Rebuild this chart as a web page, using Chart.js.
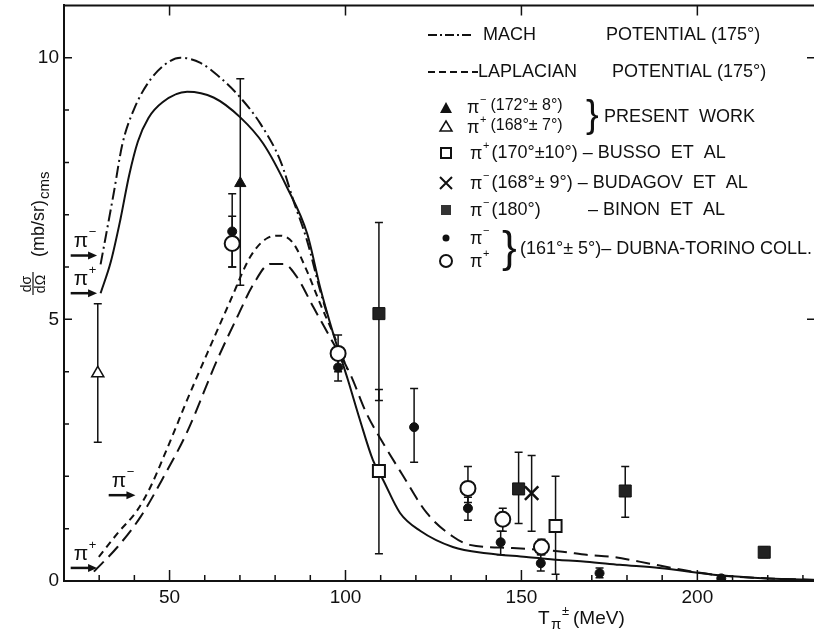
<!DOCTYPE html>
<html><head><meta charset="utf-8">
<script src="https://cdn.jsdelivr.net/npm/chart.js@4.4.1/dist/chart.umd.min.js"></script>
<style>html,body{margin:0;padding:0;background:#fff;overflow:hidden;width:814px;height:632px}#wrap{width:818px;position:relative}canvas{display:block}</style>
</head><body><div id="wrap"><canvas id="c" width="818" height="643"></canvas></div>
<script>
// ---------- tick labels ----------
const X_TICK_LABELS = [50, 100, 150, 200];
const Y_TICK_LABELS = [0, 5, 10];
const X_MINOR_TICKS = [30, 40, 60, 70, 80, 90, 110, 120, 130, 140, 160, 170, 180, 190, 210, 220, 230];
const Y_MINOR_TICKS = [1, 2, 3, 4, 6, 7, 8, 9];

// ---------- theory curves ----------
const machMinusX = [30.4, 34.1, 36.6, 39.8, 43.7, 48.3, 53.1, 58.8, 64.4, 70.1, 75.8, 81.5, 85.2, 89.1, 92.8, 95.0];
const machMinusY = [6.05, 7.4, 8.35, 9.0, 9.5, 9.85, 10.0, 9.9, 9.62, 9.24, 8.74, 8.03, 7.27, 6.5, 5.55, 5.05];

const machPlusX = [30.4, 33.3, 36.0, 38.5, 41.0, 44.0, 48.0, 55.0, 62.5, 70.1, 76.6, 83.4, 89.1, 92.8, 96.5, 100.7, 104.0, 107.8, 110.7, 115.5, 121.2, 130.5, 140.0, 151.4, 160.8, 168.4, 177.9, 189.2, 206.2, 220.0, 234.0];
const machPlusY = [5.5, 6.1, 6.9, 7.75, 8.4, 8.85, 9.15, 9.35, 9.24, 8.86, 8.36, 7.52, 6.64, 5.61, 4.73, 3.84, 3.1, 2.31, 1.93, 1.3, 0.96, 0.65, 0.53, 0.46, 0.4, 0.37, 0.31, 0.25, 0.11, 0.05, 0.02];

const lapMinusX = [29.9, 35.2, 40.8, 44.6, 48.3, 52.2, 54.0, 60.7, 67.3, 72.9, 77.7, 81.5, 85.2, 89.0, 92.8, 96.5, 100.5];
const lapMinusY = [0.46, 0.91, 1.35, 1.8, 2.37, 3.0, 3.3, 4.35, 5.36, 6.19, 6.55, 6.6, 6.45, 5.93, 5.3, 4.73, 4.05];

const lapPlusX = [28.5, 35.2, 41.8, 48.4, 55.0, 63.5, 69.2, 73.9, 78.6, 82.4, 86.2, 90.9, 95.6, 101.3, 106.0, 111.0, 116.0, 123.1, 130.5, 135.3, 147.5, 161.7, 168.5, 176.0, 183.5, 198.6, 206.2, 220.0, 234.0];
const lapPlusY = [0.18, 0.65, 1.23, 2.0, 2.85, 4.22, 5.04, 5.68, 6.06, 6.06, 5.81, 5.23, 4.66, 3.96, 3.2, 2.6, 2.05, 1.3, 0.85, 0.69, 0.63, 0.56, 0.5, 0.46, 0.37, 0.18, 0.11, 0.05, 0.02];

// ---------- experimental points (value, error low, error high) ----------
const presMinusX = [70.1], presMinusY = [7.6], presMinusLo = [5.65], presMinusHi = [9.6];
const presPlusX = [29.6], presPlusY = [3.97], presPlusLo = [2.65], presPlusHi = [5.3];
const bussoX = [109.5, 159.7], bussoY = [2.1, 1.05], bussoLo = [0.52, 0.13], bussoHi = [3.66, 2.0];
const budagovX = [152.9], budagovY = [1.68], budagovLo = [0.95], budagovHi = [2.4];
const binonX = [109.5, 149.2, 179.5, 219.0], binonY = [5.11, 1.76, 1.72, 0.55], binonLo = [3.45, 1.1, 1.22, 0.45], binonHi = [6.85, 2.46, 2.19, 0.65];
const dubMinusX = [67.8, 97.9, 119.5, 134.8, 144.1, 155.5, 172.2, 206.8];
const dubMinusY = [6.68, 4.08, 2.94, 1.39, 0.74, 0.34, 0.15, 0.05];
const dubMinusLo = [6.0, 3.82, 2.27, 1.16, 0.5, 0.19, 0.06, 0.0];
const dubMinusHi = [7.4, 4.3, 3.68, 1.6, 0.95, 0.5, 0.25, 0.1];
const dubPlusX = [67.8, 97.9, 134.8, 144.7, 155.7];
const dubPlusY = [6.45, 4.35, 1.77, 1.18, 0.65];
const dubPlusLo = [6.0, 4.0, 1.5, 0.95, 0.5];
const dubPlusHi = [6.97, 4.7, 2.19, 1.39, 0.8];

// ---------- threshold arrows (x from, x to, y) ----------
const arrowLabels = ['\u03c0-', '\u03c0+', '\u03c0-', '\u03c0+'];
const arrowX0 = [21.9, 21.9, 32.7, 21.9];
const arrowX1 = [29.4, 29.4, 40.3, 29.4];
const arrowY = [6.22, 5.5, 1.64, 0.25];

const pts = (xs, ys) => xs.map((x, i) => ({x: x, y: ys[i]}));
const INK = '#111';
const FONT = '"Liberation Sans", Arial, sans-serif';
let shift = 0;

function lineDs(xs, ys, dash) {
  return {type: 'line', data: pts(xs, ys), borderColor: INK, borderWidth: 2, borderDash: dash,
    pointRadius: 0, fill: false, cubicInterpolationMode: 'monotone'};
}
function ptDs(xs, ys, lo, hi, style, radius, bg, bw) {
  return {type: 'scatter', data: pts(xs, ys), errLo: lo, errHi: hi, pointStyle: style,
    pointRadius: radius, pointHoverRadius: radius, backgroundColor: bg, borderColor: INK, borderWidth: bw};
}

const datasets = [
  ptDs(dubMinusX, dubMinusY, dubMinusLo, dubMinusHi, 'circle', 4.5, INK, 1),
  ptDs(dubPlusX, dubPlusY, dubPlusLo, dubPlusHi, 'circle', 7.5, '#fff', 2),
  ptDs(presMinusX, presMinusY, presMinusLo, presMinusHi, 'triangle', 6.5, INK, 1),
  ptDs(presPlusX, presPlusY, presPlusLo, presPlusHi, 'triangle', 7, '#fff', 1.5),
  ptDs(bussoX, bussoY, bussoLo, bussoHi, 'rect', 8.5, '#fff', 2),
  ptDs(budagovX, budagovY, budagovLo, budagovHi, 'crossRot', 9.5, INK, 2.5),
  ptDs(binonX, binonY, binonLo, binonHi, 'rect', 8.5, '#222', 1),
  lineDs(machMinusX, machMinusY, [12, 4, 2, 4]),
  lineDs(machPlusX, machPlusY, []),
  lineDs(lapMinusX, lapMinusY, [7, 5]),
  lineDs(lapPlusX, lapPlusY, [14, 7])
];

function txt(ctx, s, x, y, size, align) {
  ctx.font = size + 'px ' + FONT;
  ctx.textAlign = align || 'left';
  ctx.textBaseline = 'middle';
  ctx.fillText(s, x, y);
  return ctx.measureText(s).width;
}
function piSign(ctx, x, y, sign, size) {
  const w = txt(ctx, '\u03c0', x, y, size);
  txt(ctx, sign === '-' ? '\u2212' : '+', x + w + 0.5, y - size * 0.42, Math.round(size * 0.62));
  return w + size * 0.5;
}

const errorBars = {
  id: 'errorBars',
  beforeDatasetsDraw(chart) {
    const ctx = chart.ctx, ys = chart.scales.y;
    ctx.save(); ctx.strokeStyle = INK; ctx.lineWidth = 1.5;
    chart.data.datasets.forEach((ds, di) => {
      if (!ds.errLo) return;
      const meta = chart.getDatasetMeta(di);
      meta.data.forEach((el, i) => {
        const x = el.x, y0 = ys.getPixelForValue(ds.errLo[i]), y1 = ys.getPixelForValue(ds.errHi[i]);
        ctx.beginPath();
        ctx.moveTo(x, y0); ctx.lineTo(x, y1);
        ctx.moveTo(x - 4, y0); ctx.lineTo(x + 4, y0);
        ctx.moveTo(x - 4, y1); ctx.lineTo(x + 4, y1);
        ctx.stroke();
      });
    });
    ctx.restore();
  }
};

const decor = {
  id: 'decor',
  afterDraw(chart) {
    const ctx = chart.ctx, a = chart.chartArea, xs = chart.scales.x, ys = chart.scales.y;
    ctx.save();
    ctx.strokeStyle = INK; ctx.fillStyle = INK;
    // top border
    ctx.lineWidth = 2;
    ctx.beginPath(); ctx.moveTo(a.left, a.top); ctx.lineTo(a.right + 2, a.top); ctx.stroke();
    // inner ticks
    ctx.lineWidth = 1.5;
    ctx.beginPath();
    X_TICK_LABELS.forEach(v => { const p = xs.getPixelForValue(v);
      ctx.moveTo(p, a.bottom); ctx.lineTo(p, a.bottom - 11);
      ctx.moveTo(p, a.top); ctx.lineTo(p, a.top + 10); });
    X_MINOR_TICKS.forEach(v => { const p = xs.getPixelForValue(v);
      ctx.moveTo(p, a.bottom); ctx.lineTo(p, a.bottom - 6); });
    Y_TICK_LABELS.forEach(v => { const p = ys.getPixelForValue(v);
      ctx.moveTo(a.left, p); ctx.lineTo(a.left + 8, p);
      ctx.moveTo(a.right, p); ctx.lineTo(a.right - 10, p); });
    Y_MINOR_TICKS.forEach(v => { const p = ys.getPixelForValue(v);
      ctx.moveTo(a.left, p); ctx.lineTo(a.left + 5, p); });
    ctx.stroke();

    // threshold arrows
    arrowLabels.forEach((lab, i) => {
      const x0 = xs.getPixelForValue(arrowX0[i]), x1 = xs.getPixelForValue(arrowX1[i]), y = ys.getPixelForValue(arrowY[i]);
      ctx.lineWidth = 2.5;
      ctx.beginPath(); ctx.moveTo(x0, y); ctx.lineTo(x1 - 6, y); ctx.stroke();
      ctx.beginPath(); ctx.moveTo(x1, y); ctx.lineTo(x1 - 9, y - 4); ctx.lineTo(x1 - 9, y + 4); ctx.closePath(); ctx.fill();
      piSign(ctx, x0 + 3, y - 14, lab.slice(1), 21);
    });

    // fixed-position items (page coordinates)
    ctx.translate(0, shift);

    // axis titles
    txt(ctx, 'T', 538, 619, 19);
    txt(ctx, '\u03c0', 551, 625, 15);
    txt(ctx, '\u00b1', 562, 611, 13);
    txt(ctx, '(MeV)', 573, 619, 19);

    ctx.save();
    ctx.translate(46, 297); ctx.rotate(-Math.PI / 2);
    ctx.textBaseline = 'alphabetic'; ctx.textAlign = 'center';
    ctx.font = '14px ' + FONT;
    ctx.fillText('d\u03c3', 13, -15);
    ctx.fillText('d\u03a9', 13, -1);
    ctx.lineWidth = 1.2; ctx.beginPath(); ctx.moveTo(2, -13); ctx.lineTo(25, -13); ctx.stroke();
    ctx.textAlign = 'left';
    ctx.font = '18px ' + FONT;
    ctx.fillText('(mb/sr)', 40, -2);
    const w = ctx.measureText('(mb/sr)').width;
    ctx.font = '15px ' + FONT;
    ctx.fillText('cms', 40 + w + 1, 3);
    ctx.restore();

    // legend
    ctx.lineWidth = 2;
    ctx.setLineDash([9, 3, 2, 3]);
    ctx.beginPath(); ctx.moveTo(428, 35); ctx.lineTo(472, 35); ctx.stroke();
    ctx.setLineDash([7, 4]);
    ctx.beginPath(); ctx.moveTo(428, 72); ctx.lineTo(478, 72); ctx.stroke();
    ctx.setLineDash([]);
    txt(ctx, 'MACH', 483, 35, 18);
    txt(ctx, 'POTENTIAL (175\u00b0)', 606, 35, 18);
    txt(ctx, 'LAPLACIAN', 478, 72, 18);
    txt(ctx, 'POTENTIAL (175\u00b0)', 612, 72, 18);

    // markers
    const mx = 446;
    ctx.beginPath(); ctx.moveTo(mx, 102); ctx.lineTo(mx + 6, 113); ctx.lineTo(mx - 6, 113); ctx.closePath(); ctx.fill();
    ctx.lineWidth = 1.5;
    ctx.beginPath(); ctx.moveTo(mx, 121); ctx.lineTo(mx + 6, 131); ctx.lineTo(mx - 6, 131); ctx.closePath(); ctx.stroke();
    ctx.lineWidth = 2;
    ctx.strokeRect(mx - 5, 148, 10, 10);
    ctx.beginPath(); ctx.moveTo(mx - 6, 177); ctx.lineTo(mx + 6, 189); ctx.moveTo(mx + 6, 177); ctx.lineTo(mx - 6, 189); ctx.stroke();
    ctx.fillStyle = '#333'; ctx.fillRect(mx - 5, 205, 10, 10); ctx.fillStyle = INK;
    ctx.beginPath(); ctx.arc(mx, 238, 3.5, 0, Math.PI * 2); ctx.fill();
    ctx.beginPath(); ctx.arc(mx, 261, 6, 0, Math.PI * 2); ctx.stroke();

    let w2 = piSign(ctx, 467, 108, '-', 18);
    txt(ctx, '(172\u00b0\u00b1 8\u00b0)', 467 + w2 + 2, 106, 16);
    w2 = piSign(ctx, 467, 128, '+', 18);
    txt(ctx, '(168\u00b0\u00b1 7\u00b0)', 467 + w2 + 2, 126, 16);
    txt(ctx, '}', 586, 117, 38);
    txt(ctx, 'PRESENT  WORK', 604, 117, 18);

    w2 = piSign(ctx, 470, 154, '+', 18);
    txt(ctx, '(170\u00b0\u00b110\u00b0) \u2013 BUSSO  ET  AL', 470 + w2, 153, 18);
    w2 = piSign(ctx, 470, 184, '-', 18);
    txt(ctx, '(168\u00b0\u00b1 9\u00b0) \u2013 BUDAGOV  ET  AL', 470 + w2, 183, 18);
    w2 = piSign(ctx, 470, 211, '-', 18);
    txt(ctx, '(180\u00b0)', 470 + w2, 210, 18);
    txt(ctx, '\u2013 BINON  ET  AL', 588, 210, 18);

    piSign(ctx, 470, 239, '-', 18);
    piSign(ctx, 470, 262, '+', 18);
    txt(ctx, '}', 502, 250, 44);
    txt(ctx, '(161\u00b0\u00b1 5\u00b0)\u2013 DUBNA-TORINO COLL.', 520, 249, 18);
    ctx.restore();
  }
};

const canvas = document.getElementById('c');
const chart = new Chart(canvas, {
  data: {datasets: datasets},
  options: {
    responsive: false, animation: false, devicePixelRatio: 1,
    layout: {autoPadding: false, padding: {left: 0, right: 1, top: 5, bottom: 0}},
    plugins: {legend: {display: false}, tooltip: {enabled: false}},
    scales: {
      x: {type: 'linear', min: 20, max: 234,
        afterBuildTicks: s => { s.ticks = X_TICK_LABELS.map(v => ({value: v})); },
        afterFit: s => { s.height = 51; },
        grid: {display: false, drawTicks: false},
        border: {display: true, color: INK, width: 2},
        ticks: {color: INK, font: {size: 19, family: FONT}, padding: 5, maxRotation: 0, autoSkip: false}},
      y: {type: 'linear', min: 0, max: 11,
        afterBuildTicks: s => { s.ticks = Y_TICK_LABELS.map(v => ({value: v})); },
        afterFit: s => { s.width = 64; },
        grid: {display: false, drawTicks: false},
        border: {display: true, color: INK, width: 2},
        ticks: {color: INK, font: {size: 19, family: FONT}, padding: 5}}
    }
  },
  plugins: [errorBars, decor]
});

// the canvas is 11px taller than the page; pull it up so the plot frame top sits at 5px
const d = Math.round(chart.chartArea.top - 5);
if (d !== 0) {
  shift = d;
  canvas.style.marginTop = (-d) + 'px';
  chart.update('none');
}
</script></body></html>
